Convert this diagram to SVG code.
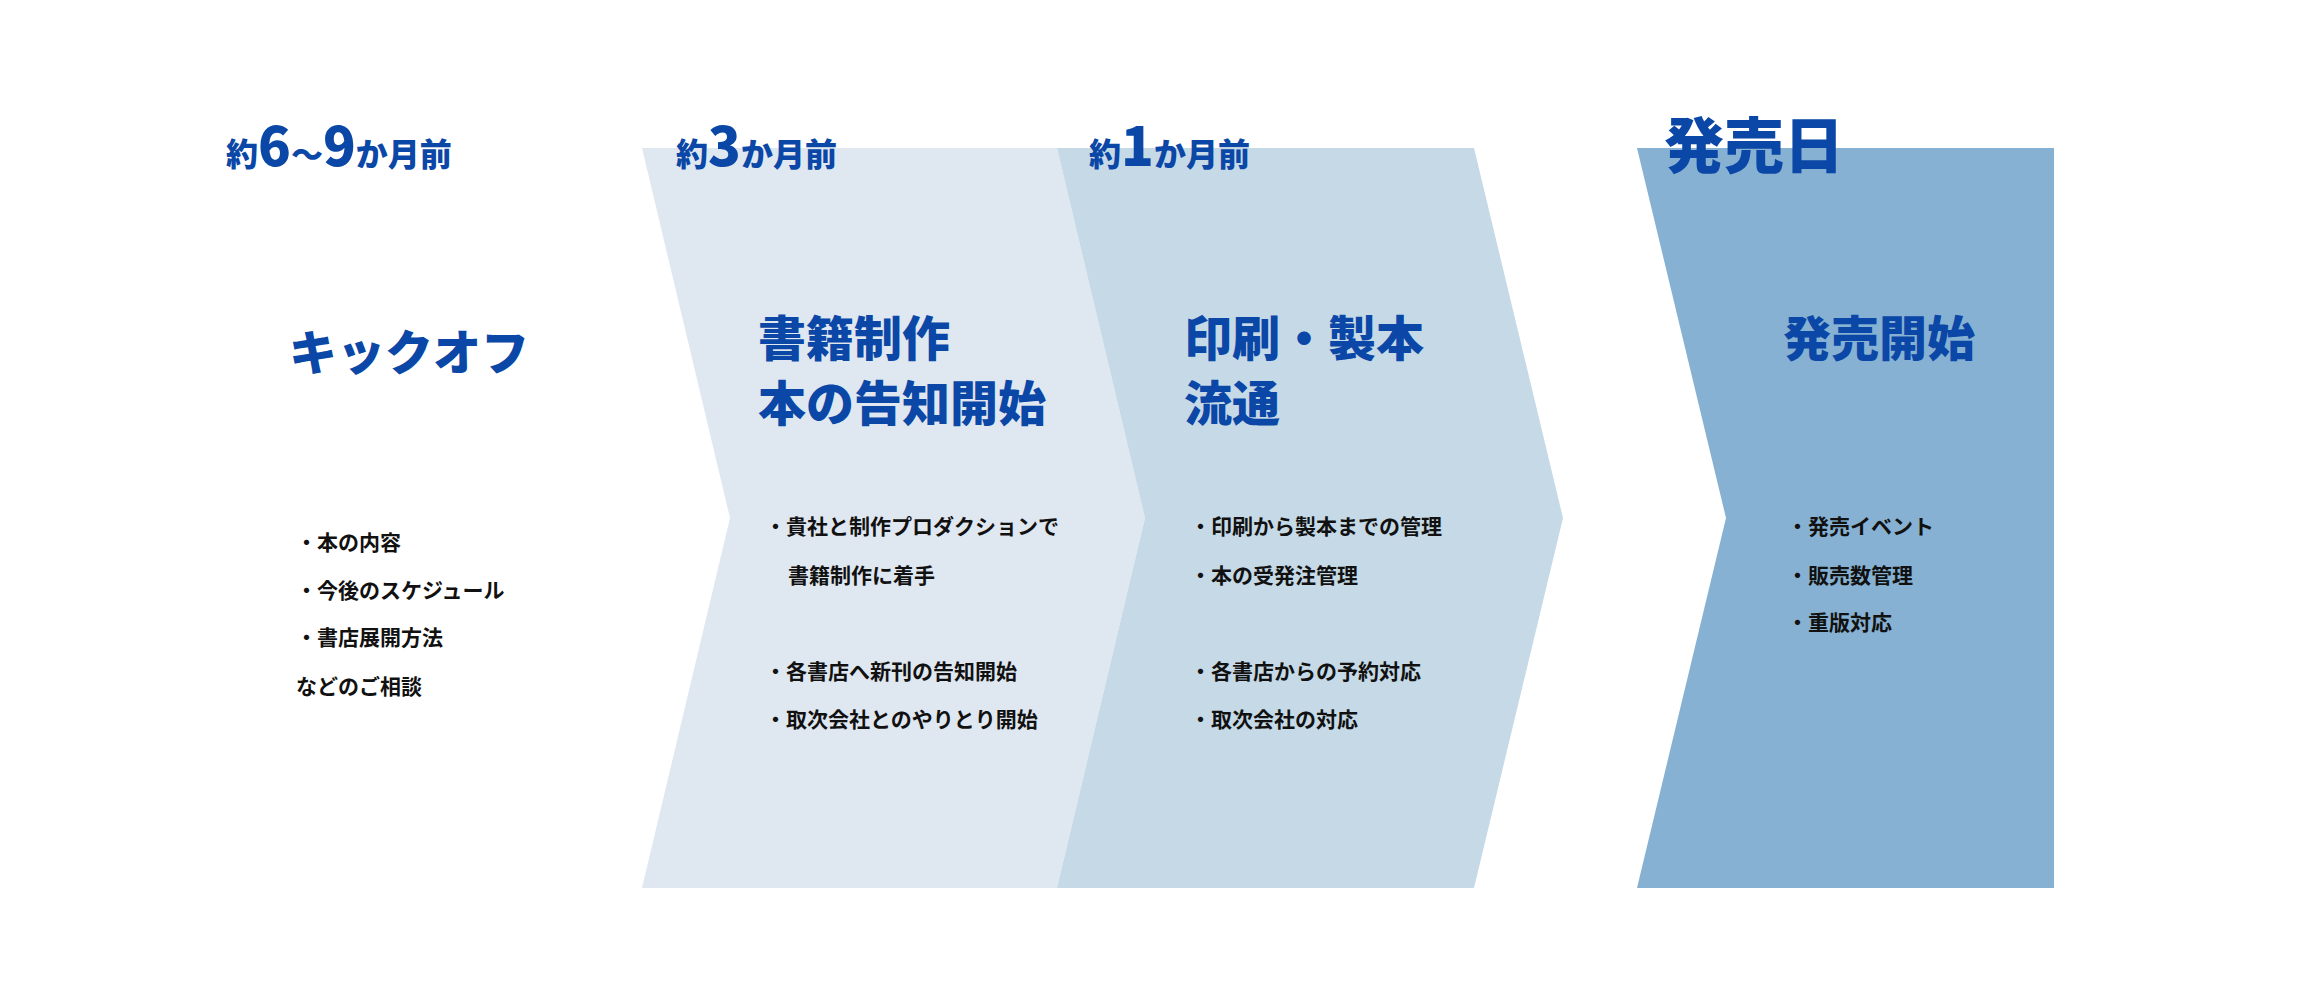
<svg xmlns="http://www.w3.org/2000/svg" width="2320" height="1000" viewBox="0 0 2320 1000">
<style>
text{font-family:"Noto Sans CJK JP","Noto Sans",sans-serif;font-weight:700}
.h{fill:#0a47a6;font-weight:900}
.t{fill:#0a47a6;font-size:48px;font-weight:900}
.b{fill:#111;font-size:21px}
.s{font-size:32px}.n{font-size:54px}
</style>
<rect width="2320" height="1000" fill="#fff"/>
<g id="connectors"></g>
<g id="panel1"><polygon points="642,148 1057,148 1145,518 1057,888 642,888 730,518" fill="#dfe7f0"/></g>
<g id="panel2"><polygon points="1057,148 1474,148 1563,518 1474,888 1057,888 1145,518" fill="#c5d9e7"/></g>
<g id="panel3"><polygon points="1637,148 2054,148 2054,888 1637,888 1726,518" fill="#86b1d3"/></g>
<g id="kickoff">
<text class="h" x="226" y="166"><tspan class="s">約</tspan><tspan class="n">6</tspan><tspan class="s">〜</tspan><tspan class="n">9</tspan><tspan class="s">か月前</tspan></text>
<text class="t" x="289" y="370">キックオフ</text>
<text class="b" x="296" y="550">・本の内容</text>
<text class="b" x="296" y="598">・今後のスケジュール</text>
<text class="b" x="296" y="645">・書店展開方法</text>
<text class="b" x="296" y="694">などのご相談</text>
</g>
<g id="production">
<text class="h" x="676" y="166"><tspan class="s">約</tspan><tspan class="n">3</tspan><tspan class="s">か月前</tspan></text>
<text class="t" x="758" y="356">書籍制作</text>
<text class="t" x="758" y="421">本の告知開始</text>
<text class="b" x="765" y="534">・貴社と制作プロダクションで</text>
<text class="b" x="788" y="583">書籍制作に着手</text>
<text class="b" x="765" y="679">・各書店へ新刊の告知開始</text>
<text class="b" x="765" y="727">・取次会社とのやりとり開始</text>
</g>
<g id="printing">
<text class="h" x="1089" y="166"><tspan class="s">約</tspan><tspan class="n">1</tspan><tspan class="s">か月前</tspan></text>
<text class="t" x="1184" y="356">印刷・製本</text>
<text class="t" x="1184" y="421">流通</text>
<text class="b" x="1190" y="534">・印刷から製本までの管理</text>
<text class="b" x="1190" y="583">・本の受発注管理</text>
<text class="b" x="1190" y="679">・各書店からの予約対応</text>
<text class="b" x="1190" y="727">・取次会社の対応</text>
</g>
<g id="release">
<text class="h" x="1664" y="168" font-size="60">発売日</text>
<text class="t" x="1783" y="356">発売開始</text>
<text class="b" x="1787" y="534">・発売イベント</text>
<text class="b" x="1787" y="583">・販売数管理</text>
<text class="b" x="1787" y="630">・重版対応</text>
</g>
</svg>
